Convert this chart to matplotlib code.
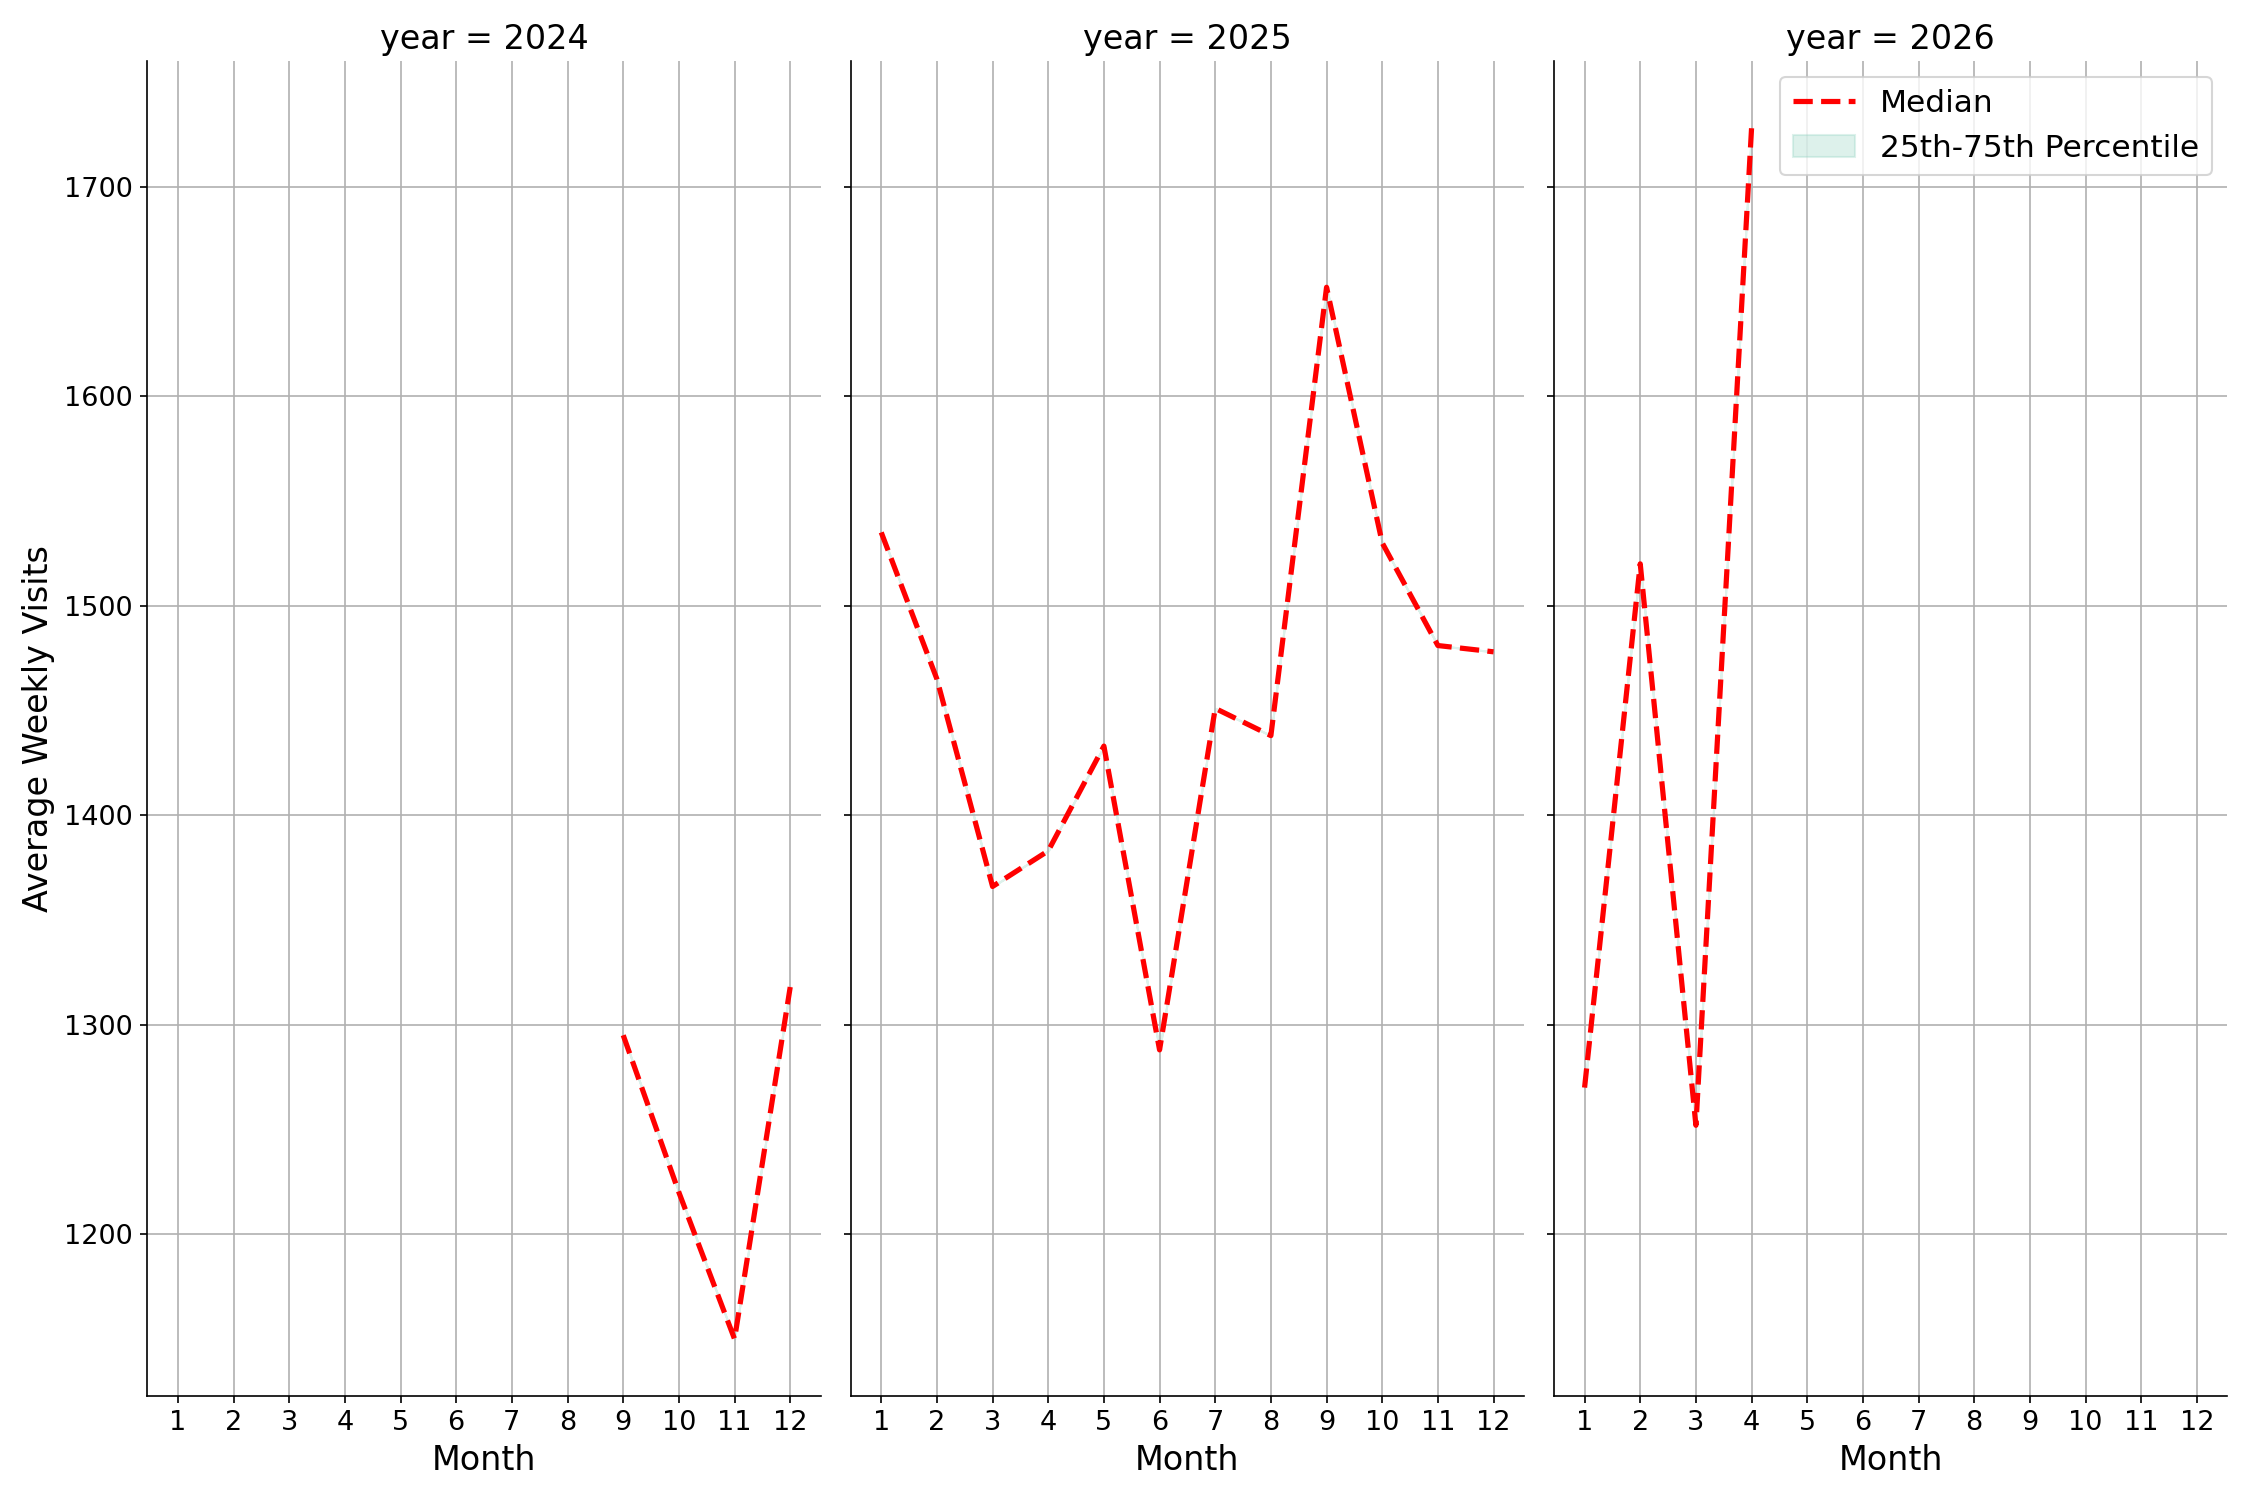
import matplotlib.pyplot as plt

months = list(range(1, 13))
years = [2024, 2025, 2026]

months_2024 = [9, 10, 11, 12]
median_2024 = [1295, 1220, 1150, 1318]
months_2025 = list(range(1, 13))
median_2025 = [1535, 1465, 1366, 1383, 1433, 1288, 1451, 1438, 1652, 1530, 1481, 1478]
months_2026 = [1, 2, 3, 4]
median_2026 = [1270, 1520, 1252, 1728]

series = [(months_2024, median_2024), (months_2025, median_2025), (months_2026, median_2026)]

fig, axes = plt.subplots(1, 3, figsize=(15, 10), dpi=150, sharey=True)

for ax, year, (m, med) in zip(axes, years, series):
    ax.plot(m, med, color='red', linestyle='--', linewidth=2.5, label='Median')
    ax.fill_between(m, med, med, color='#8fd3c0', alpha=0.3, label='25th-75th Percentile')
    ax.set_title(f"year = {year}", fontsize=16)
    ax.set_xlabel("Month", fontsize=16)
    ax.set_xticks(months)
    ax.set_xlim(0.45, 12.55)
    ax.grid(True)
    ax.tick_params(labelsize=13)
    ax.spines['top'].set_visible(False)
    ax.spines['right'].set_visible(False)

axes[0].set_ylim(1123, 1760)
axes[0].set_ylabel("Average Weekly Visits", fontsize=16)
axes[2].legend(loc='upper right', fontsize=15)

plt.tight_layout()
plt.savefig("out.png")
